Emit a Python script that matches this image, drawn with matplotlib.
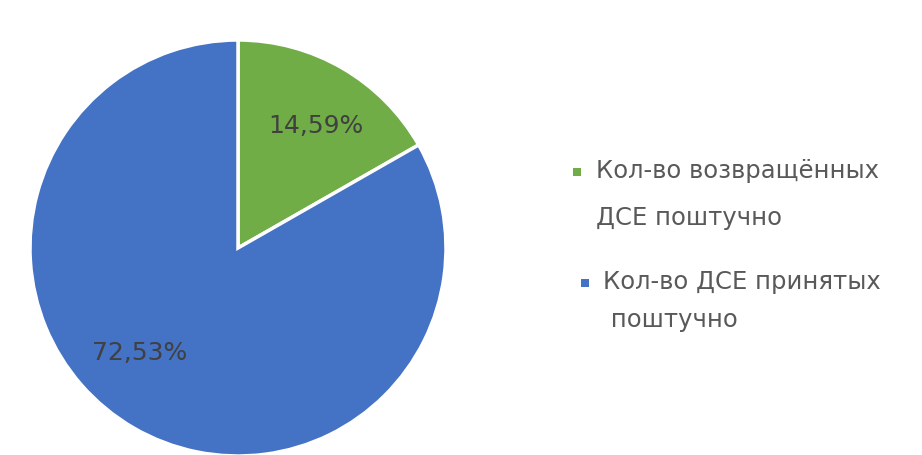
import matplotlib
matplotlib.use("Agg")
import matplotlib.pyplot as plt
from matplotlib.patches import Rectangle
import numpy as np

categories = ["Кол-во возвращённых\nДСЕ поштучно", "Кол-во ДСЕ принятых\n поштучно"]
values = [14.59, 72.53]
colors = ["#70AD47", "#4472C4"]

W, H = 922, 455
fig = plt.figure(figsize=(W / 100, H / 100), dpi=100)
fig.patch.set_facecolor("white")

cx, cy, r = 238, 248, 208
ax = fig.add_axes([(cx - r) / W, (H - cy - r) / H, 2 * r / W, 2 * r / H])
wedges, texts, autotexts = ax.pie(
    values, colors=colors, startangle=90, counterclock=False,
    autopct="%1.1f", pctdistance=0.69,
    wedgeprops=dict(edgecolor="white", linewidth=2.5),
    textprops=dict(fontsize=18, color="#404040", family=["DejaVu Sans"]),
)
for t, v in zip(autotexts, values):
    t.set_text(f"{v:.2f}%".replace(".", ","))
# Excel best-fit placement of the data labels
ang = np.deg2rad(-133)
autotexts[1].set_position((0.69 * np.cos(ang), 0.69 * np.sin(ang)))
autotexts[0].set_position((0.69 * np.cos(np.deg2rad(57)), 0.70 * np.sin(np.deg2rad(57))))
ax.set_xlim(-1, 1)
ax.set_ylim(-1, 1)
ax.set_aspect("equal")
ax.axis("off")

# legend drawn manually (markers aligned with first line, like Excel)
marker_pos = [(577, 172), (585, 283)]
text_pos = [(596, 172), (603, 283)]
spacings = [2.2, 1.75]
for (mx, my), (tx, ty), lab, c, ls in zip(marker_pos, text_pos, categories, colors, spacings):
    s = 8
    fig.patches.append(Rectangle(((mx - s / 2) / W, (H - my - s / 2) / H), s / W, s / H,
                                 transform=fig.transFigure, facecolor=c, edgecolor="none"))
    fig.text(tx / W, (H - my + 13) / H, lab, fontsize=17.5, color="#595959",
             ha="left", va="top", linespacing=ls, family=["DejaVu Sans"])

fig.savefig("out.png", dpi=100, facecolor="white")
